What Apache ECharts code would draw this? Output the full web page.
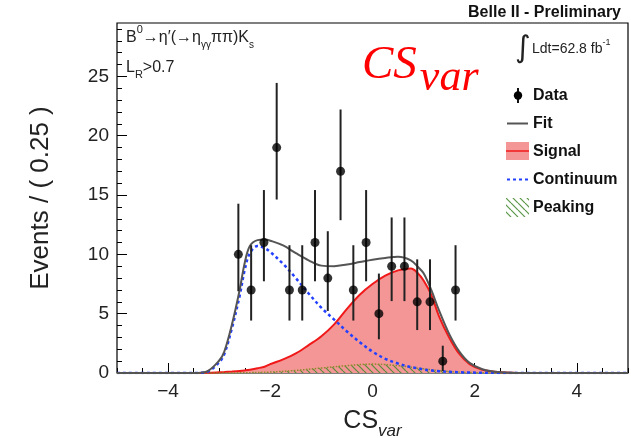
<!DOCTYPE html>
<html>
<head>
<meta charset="utf-8">
<script src="https://cdn.jsdelivr.net/npm/echarts@6/dist/echarts.min.js"></script>
<style>
  html, body { margin: 0; padding: 0; background: #fff; }
  #chart { width: 631px; height: 438px; }
</style>
</head>
<body>
<div id="chart"></div>
<script>
// Binned data: bin centres (width 0.25), counts and Poisson 68% interval bounds
const binCenters = [-2.625, -2.375, -2.125, -1.875, -1.625, -1.375, -1.125, -0.875, -0.625,
                    -0.375, -0.125, 0.125, 0.375, 0.625, 0.875, 1.125, 1.375, 1.625];
const counts     = [10, 7, 11, 19, 7, 7, 11, 8, 17, 7, 11, 5, 9, 9, 6, 6, 1, 7];
const errLow     = [6.89, 4.42, 7.73, 14.62, 4.42, 4.42, 7.73, 5.23, 12.88, 4.42, 7.73, 2.84, 6.06, 6.06, 3.62, 3.62, 0.17, 4.42];
const errHigh    = [14.27, 10.77, 15.42, 24.45, 10.77, 10.77, 15.42, 11.95, 22.21, 10.77, 15.42, 8.38, 13.11, 13.11, 9.58, 9.58, 2.30, 10.77];

// Fit model components sampled along CS_var
const curveX      = [-5, -3.5, -3.25, -3.0, -2.9, -2.75, -2.6, -2.5, -2.4, -2.25, -2.1, -2.0, -1.75, -1.5, -1.25, -1.0,
                     -0.75, -0.5, -0.25, 0, 0.25, 0.5, 0.75, 0.9, 1.0, 1.15, 1.3, 1.5, 1.7, 1.9, 2.15, 2.5, 3.0, 5.0];
const fitY        = [0, 0, 0.12, 1.05, 1.8, 4.1, 7.0, 9.3, 10.7, 11.2, 11.25, 11.15, 10.75, 10.1, 9.5, 9.05,
                     9.0, 9.15, 9.35, 9.55, 9.7, 9.8, 9.5, 8.9, 8.4, 7.0, 5.3, 3.3, 1.8, 0.85, 0.32, 0.07, 0, 0];
const signalY     = [0, 0, 0.02, 0.06, 0.08, 0.12, 0.17, 0.22, 0.28, 0.4, 0.55, 0.75, 1.15, 1.65, 2.35, 3.1,
                     4.1, 5.4, 6.6, 7.5, 8.2, 8.65, 8.8, 8.35, 7.8, 6.6, 4.8, 3.0, 1.6, 0.75, 0.28, 0.06, 0, 0];
const continuumY  = [0, 0, 0.08, 0.9, 1.6, 3.8, 6.5, 8.7, 10.1, 10.7, 10.5, 10.2, 9.2, 8.0, 6.7, 5.5,
                     4.5, 3.5, 2.6, 1.8, 1.2, 0.8, 0.5, 0.38, 0.3, 0.22, 0.15, 0.1, 0.06, 0.04, 0.02, 0.01, 0, 0];
const peakingX    = [-5, -3, -2.5, -2.0, -1.5, -1.0, -0.5, 0, 0.5, 1.0, 1.5, 2.0, 2.5, 5];
const peakingY    = [0, 0, 0.02, 0.08, 0.22, 0.42, 0.62, 0.75, 0.62, 0.35, 0.12, 0.03, 0, 0];

// Axis ticks and labels
const xLabelValues = [-4, -2, 0, 2, 4];
const yLabelValues = [0, 5, 10, 15, 20, 25];
const xMinorTicks = [];
for (let v = -5; v <= 5.001; v += 0.5) xMinorTicks.push(+v.toFixed(2));
const yMinorTicks = [];
for (let v = 0; v <= 29; v += 1) yMinorTicks.push(v);

const SANS = 'Liberation Sans, Arial, Helvetica, sans-serif';

// Diagonal hatch used for the peaking component
function hatchPattern(color) {
  const c = document.createElement('canvas');
  c.width = 7; c.height = 7;
  const g = c.getContext('2d');
  g.strokeStyle = color;
  g.lineWidth = 1.2;
  [-7, 0, 7].forEach(k => {
    g.beginPath();
    g.moveTo(k, 0);
    g.lineTo(k + 7, 7);
    g.stroke();
  });
  return { image: c, repeat: 'repeat' };
}
const hatch = hatchPattern('rgba(70,140,50,0.9)');

const pairs = (xs, ys) => xs.map((x, i) => [x, ys[i]]);
const minusFmt = v => (v < 0 ? '\u2212' + Math.abs(v) : String(v));
const noLine = { show: false, onZero: false };

const chart = echarts.init(document.getElementById('chart'), null, { renderer: 'canvas' });

const option = {
  animation: false,
  backgroundColor: '#fff',
  grid: {
    left: 117, right: 3, top: 23, bottom: 65,
    outerBoundsMode: 'none', containLabel: false,
    show: true, borderColor: '#000', borderWidth: 1.2, backgroundColor: 'transparent'
  },
  xAxis: [
    {
      type: 'value', min: -5, max: 5, position: 'bottom',
      axisLine: noLine, splitLine: { show: false },
      axisTick: { show: true, inside: true, length: 10, customValues: xLabelValues, lineStyle: { color: '#000', width: 1 } },
      axisLabel: { customValues: xLabelValues, formatter: minusFmt, fontSize: 19, color: '#222', margin: 9, fontFamily: SANS },
      name: '{a|CS}{b|var}', nameLocation: 'middle', nameGap: 36,
      nameTextStyle: {
        rich: {
          a: { fontSize: 25, fontFamily: SANS, color: '#222', verticalAlign: 'top' },
          b: { fontSize: 17, fontFamily: SANS, fontStyle: 'italic', color: '#222', verticalAlign: 'top', padding: [14, 0, 0, 0] }
        }
      }
    },
    {
      type: 'value', min: -5, max: 5, position: 'bottom',
      axisLine: noLine, splitLine: { show: false },
      axisLabel: { show: true, customValues: xMinorTicks, formatter: () => '' },
      axisTick: { show: true, inside: true, length: 5, customValues: xMinorTicks, lineStyle: { color: '#000', width: 1 } }
    }
  ],
  yAxis: [
    {
      type: 'value', min: 0, max: 29.5, position: 'left',
      axisLine: noLine, splitLine: { show: false },
      axisTick: { show: true, inside: true, length: 10, customValues: yLabelValues, lineStyle: { color: '#000', width: 1 } },
      axisLabel: { customValues: yLabelValues, fontSize: 19, color: '#222', margin: 8, fontFamily: SANS },
      name: 'Events / ( 0.25 )', nameLocation: 'middle', nameGap: 63, nameRotate: 90,
      nameTextStyle: { fontSize: 26, fontFamily: SANS, color: '#222' }
    },
    {
      type: 'value', min: 0, max: 29.5, position: 'left',
      axisLine: noLine, splitLine: { show: false },
      axisLabel: { show: true, customValues: yMinorTicks, formatter: () => '' },
      axisTick: { show: true, inside: true, length: 5, customValues: yMinorTicks, lineStyle: { color: '#000', width: 1 } }
    }
  ],
  series: [
    {
      name: 'Signal', type: 'line', data: pairs(curveX, signalY), smooth: 0.35, symbol: 'none',
      lineStyle: { color: '#f01818', width: 2 },
      areaStyle: { color: '#f59696', opacity: 1 }
    },
    {
      name: 'Peaking', type: 'line', data: pairs(peakingX, peakingY), smooth: 0.35, symbol: 'none',
      lineStyle: { color: '#8c8a2c', width: 1.5, type: 'dotted' },
      areaStyle: { color: hatch, opacity: 1 }
    },
    {
      name: 'Continuum', type: 'line', data: pairs(curveX, continuumY), smooth: 0.35, symbol: 'none',
      lineStyle: { color: '#2340ff', width: 2.5, type: [3, 3] }
    },
    {
      name: 'Fit', type: 'line', data: pairs(curveX, fitY), smooth: 0.35, symbol: 'none',
      lineStyle: { color: '#555', width: 2 }
    },
    {
      name: 'DataErr', type: 'custom',
      data: binCenters.map((x, i) => [x, errLow[i], errHigh[i]]),
      encode: { x: 0, y: [1, 2] },
      renderItem: (params, api) => {
        const x = api.value(0);
        const p1 = api.coord([x, api.value(1)]);
        const p2 = api.coord([x, api.value(2)]);
        return {
          type: 'line',
          shape: { x1: p1[0], y1: p1[1], x2: p2[0], y2: p2[1] },
          style: { stroke: '#222', lineWidth: 2 }
        };
      },
      z: 5
    },
    {
      name: 'Data', type: 'scatter', data: pairs(binCenters, counts),
      symbol: 'circle', symbolSize: 9, itemStyle: { color: '#000' }, z: 6
    }
  ],
  graphic: [
    // header
    { type: 'text', x: 621, y: 5, style: { text: 'Belle II - Preliminary', font: 'bold 16px ' + SANS, fill: '#111', align: 'right' } },
    // selection labels
    {
      type: 'text', x: 126, y: 24,
      style: {
        text: '{m|B}{p|0}{m|\u2192\u03b7\u2032(\u2192\u03b7}{s|\u03b3\u03b3}{m|\u03c0\u03c0)K}{s|s}',
        rich: {
          m: { fontSize: 16, fontFamily: SANS, fill: '#222', verticalAlign: 'top', padding: [6, 0, 0, 0] },
          p: { fontSize: 11, fontFamily: SANS, fill: '#222', verticalAlign: 'top' },
          s: { fontSize: 10, fontFamily: SANS, fill: '#222', verticalAlign: 'top', padding: [16, 0, 0, 0] }
        }
      }
    },
    {
      type: 'text', x: 126, y: 54,
      style: {
        text: '{m|L}{s|R}{m|>0.7}',
        rich: {
          m: { fontSize: 16, fontFamily: SANS, fill: '#222', verticalAlign: 'top', padding: [6, 0, 0, 0] },
          s: { fontSize: 11, fontFamily: SANS, fill: '#222', verticalAlign: 'top', padding: [15, 0, 0, 0] }
        }
      }
    },
    // luminosity
    { type: 'text', x: 515, y: 34, style: { text: '\u222b', font: '30px DejaVu Sans', fill: '#222' } },
    {
      type: 'text', x: 532, y: 38,
      style: {
        text: '{m|Ldt=62.8 fb}{p|-1}',
        rich: {
          m: { fontSize: 14, fontFamily: SANS, fill: '#222', verticalAlign: 'top', padding: [4, 0, 0, 0] },
          p: { fontSize: 9, fontFamily: SANS, fill: '#222', verticalAlign: 'top' }
        }
      }
    },
    // red variable label
    {
      type: 'text', x: 362, y: 42,
      style: {
        text: '{a|CS}{b|var}',
        rich: {
          a: { fontSize: 47, fontFamily: 'Liberation Serif', fontStyle: 'italic', fill: '#ff0000', verticalAlign: 'top' },
          b: { fontSize: 44, fontFamily: 'Liberation Serif', fontStyle: 'italic', fill: '#ff0000', verticalAlign: 'top', padding: [14, 0, 0, 3] }
        }
      }
    },
    // legend: Data
    { type: 'line', shape: { x1: 518, y1: 88, x2: 518, y2: 103 }, style: { stroke: '#111', lineWidth: 2 } },
    { type: 'circle', shape: { cx: 518, cy: 95.5, r: 4.2 }, style: { fill: '#000' } },
    { type: 'text', x: 533, y: 96, style: { text: 'Data', font: 'bold 16px ' + SANS, fill: '#111', verticalAlign: 'middle' } },
    // legend: Fit
    { type: 'line', shape: { x1: 507, y1: 123.5, x2: 528, y2: 123.5 }, style: { stroke: '#555', lineWidth: 2 } },
    { type: 'text', x: 533, y: 124, style: { text: 'Fit', font: 'bold 16px ' + SANS, fill: '#111', verticalAlign: 'middle' } },
    // legend: Signal
    { type: 'rect', shape: { x: 506, y: 142, width: 23, height: 18 }, style: { fill: '#f59696' } },
    { type: 'line', shape: { x1: 506, y1: 151, x2: 529, y2: 151 }, style: { stroke: '#f01818', lineWidth: 1.5 } },
    { type: 'text', x: 533, y: 152, style: { text: 'Signal', font: 'bold 16px ' + SANS, fill: '#111', verticalAlign: 'middle' } },
    // legend: Continuum
    { type: 'line', shape: { x1: 507, y1: 179.5, x2: 528, y2: 179.5 }, style: { stroke: '#2340ff', lineWidth: 2, lineDash: [3, 3] } },
    { type: 'text', x: 533, y: 180, style: { text: 'Continuum', font: 'bold 16px ' + SANS, fill: '#111', verticalAlign: 'middle' } },
    // legend: Peaking
    { type: 'rect', shape: { x: 506, y: 198, width: 23, height: 19 }, style: { fill: hatch } },
    { type: 'text', x: 533, y: 208, style: { text: 'Peaking', font: 'bold 16px ' + SANS, fill: '#111', verticalAlign: 'middle' } }
  ]
};

chart.setOption(option);
</script>
</body>
</html>
